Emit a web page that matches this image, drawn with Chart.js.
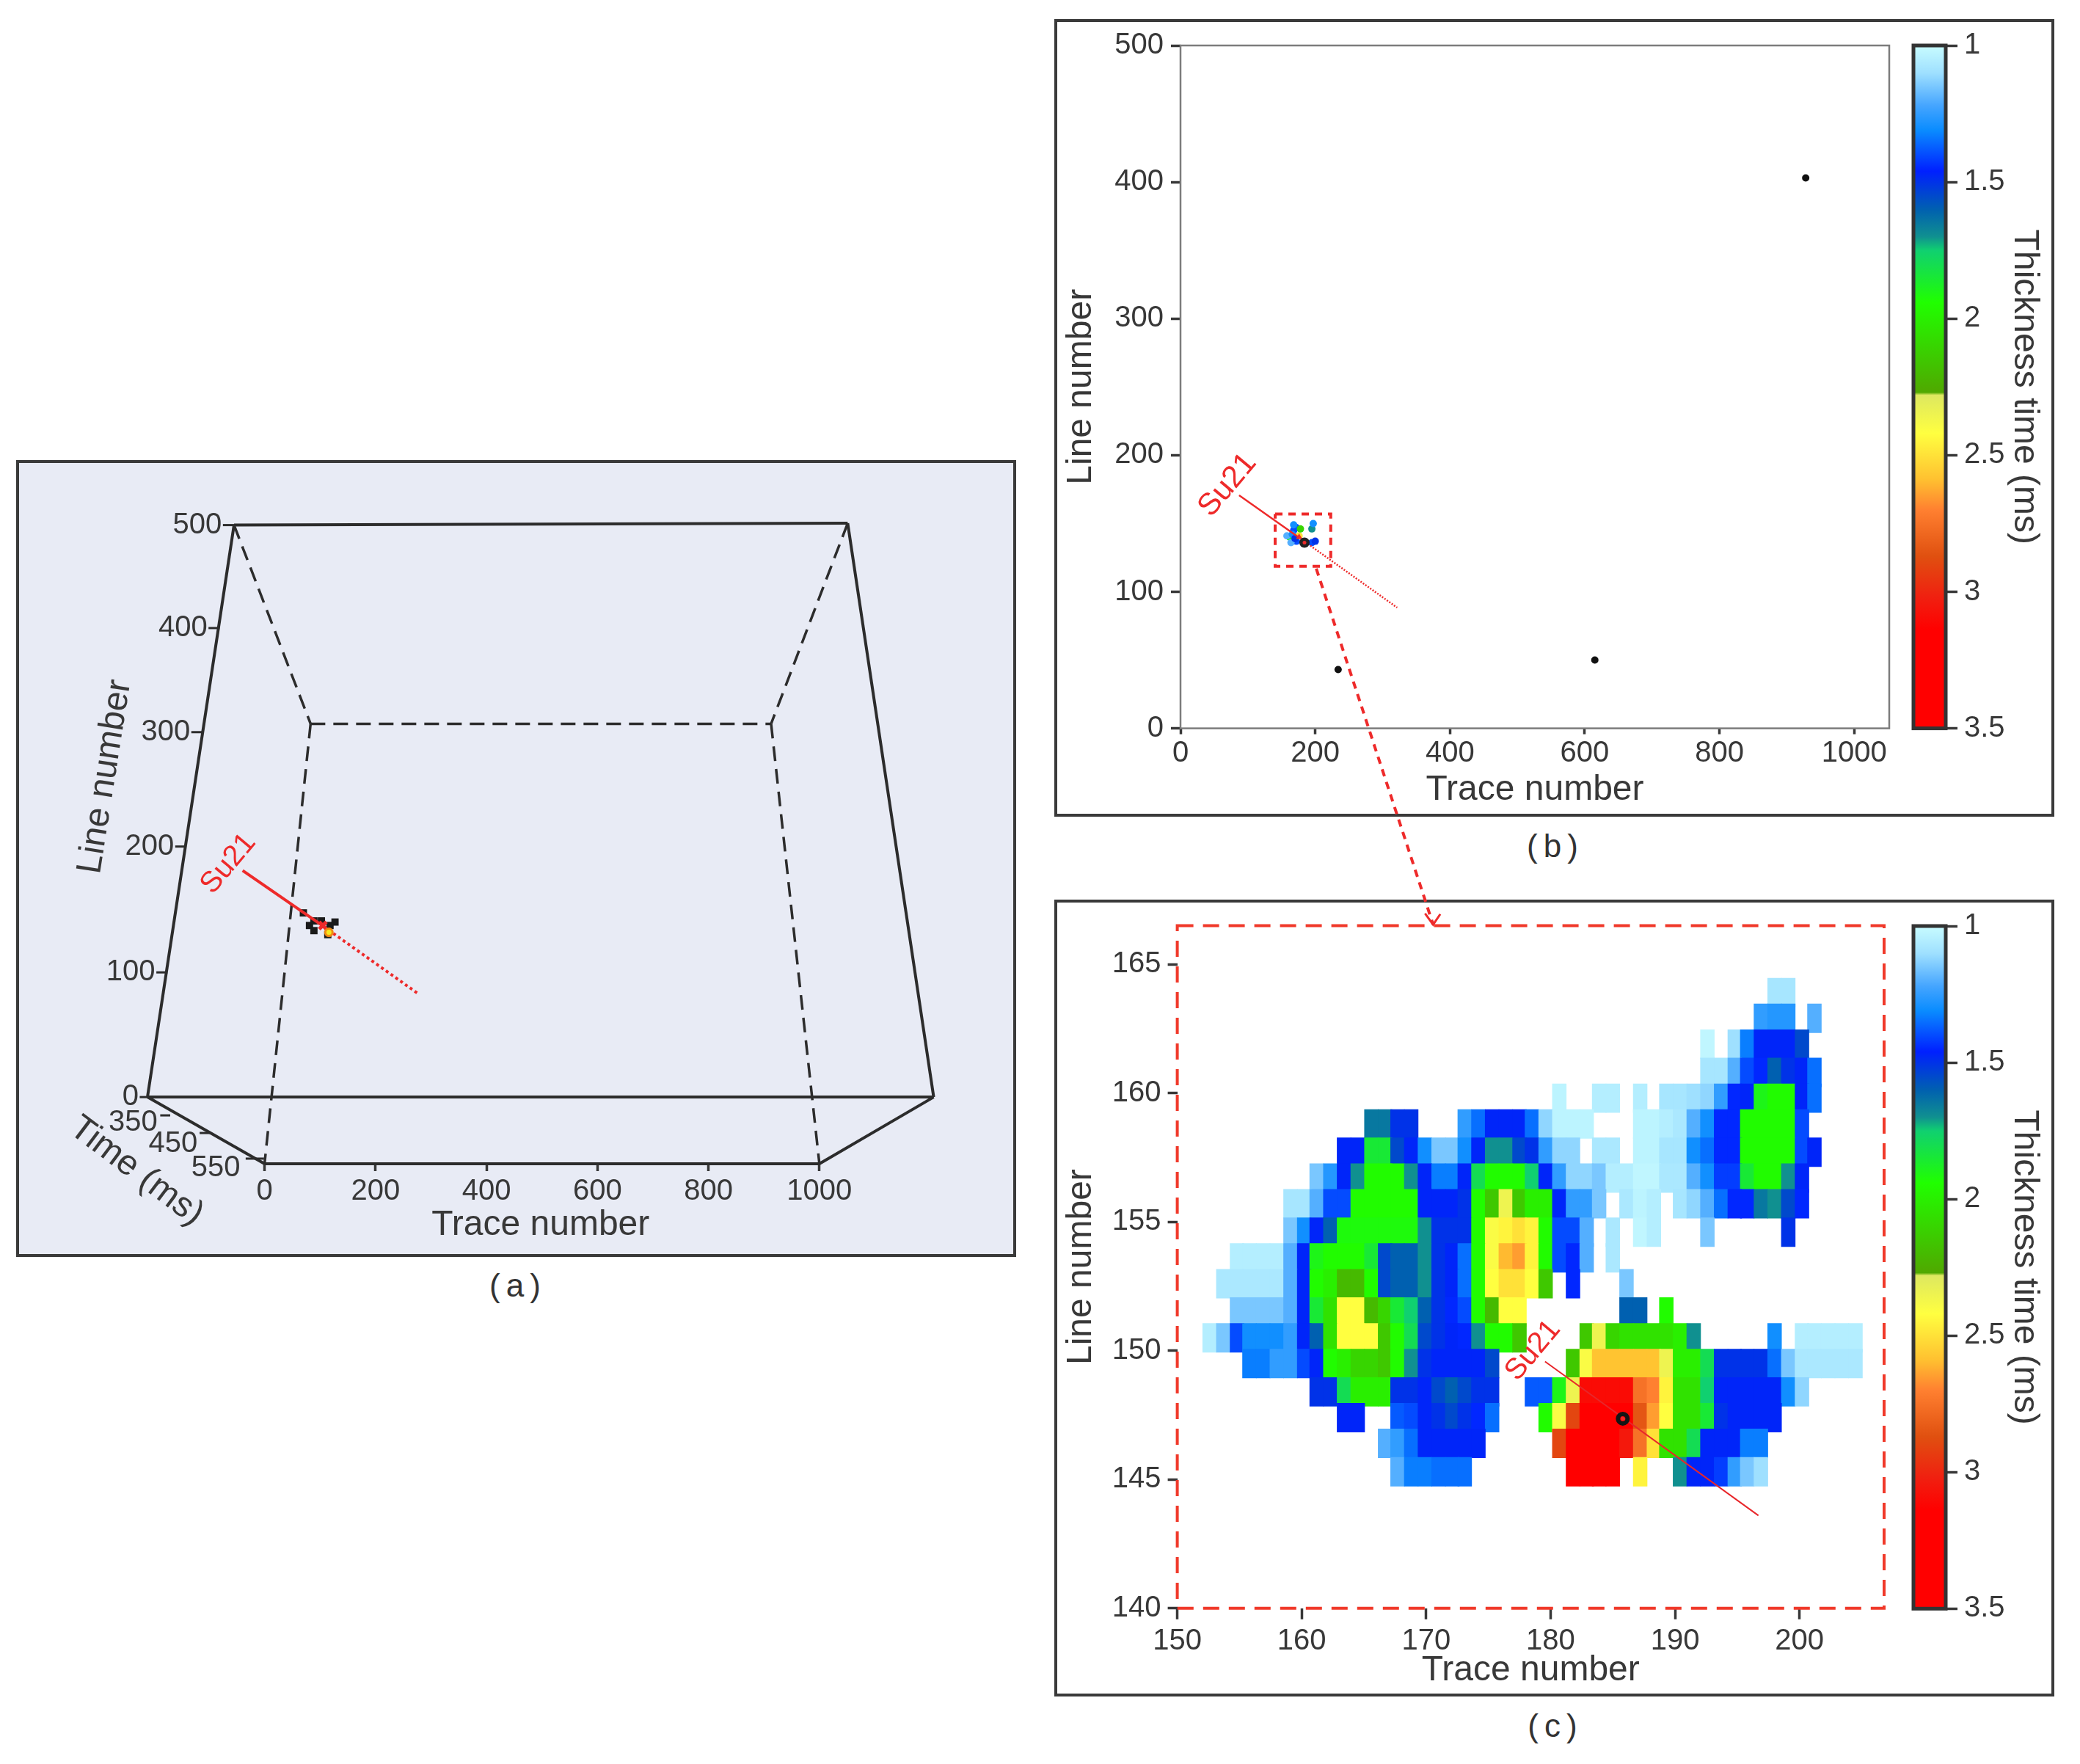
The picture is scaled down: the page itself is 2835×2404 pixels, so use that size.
<!DOCTYPE html>
<html>
<head>
<meta charset="utf-8">
<title>Su21 thickness time</title>
<script src="https://cdn.jsdelivr.net/npm/chart.js@4"></script>
<style>
html, body { margin: 0; padding: 0; background: #fff; width: 2835px; height: 2404px; overflow: hidden; }
canvas { position: absolute; filter: blur(0.7px); }
.panel { position: absolute; box-sizing: border-box; border: 4px solid #3a3a3a; }
.caption { position: absolute; font: 44px "Liberation Sans", sans-serif; color: #333; letter-spacing: 8px; transform: translateX(-50%); }
</style>
</head>
<body>
<div class="panel" style="left:22px;top:627px;width:1363px;height:1086px;background:#e8ebf5"></div>
<div class="panel" style="left:1437px;top:26px;width:1363px;height:1087px"></div>
<div class="panel" style="left:1437px;top:1226px;width:1363px;height:1086px"></div>
<div class="caption" style="left:706px;top:1727px">(a)</div>
<div class="caption" style="left:2120px;top:1128px">(b)</div>
<div class="caption" style="left:2120px;top:2327px">(c)</div>

<canvas id="chartA" width="1350" height="1060" style="left:30px;top:640px"></canvas>
<canvas id="chartC" width="1150" height="1078" style="left:1440px;top:1225px"></canvas>
<canvas id="chartB" width="1150" height="1250" style="left:1440px;top:30px"></canvas>
<canvas id="barB" width="205" height="1011" style="left:2590px;top:22px"></canvas>
<canvas id="barC" width="205" height="1011" style="left:2590px;top:1222px"></canvas>

<script>
// panel (c) grid
const traceNumbers = [152.6,153.7,154.8,155.8,156.9,158.0,159.1,160.2,161.2,162.3,163.4,164.5,165.6,166.7,167.7,168.8,169.9,171.0,172.1,173.1,174.2,175.3,176.4,177.5,178.5,179.6,180.7,181.8,182.9,183.9,185.0,186.1,187.2,188.3,189.3,190.4,191.5,192.6,193.7,194.8,195.8,196.9,198.0,199.1,200.2,201.2,202.3,203.4,204.5];
const lineNumbers = [163.9,162.9,161.9,160.8,159.8,158.8,157.7,156.7,155.7,154.6,153.6,152.6,151.5,150.5,149.5,148.4,147.4,146.4,145.3];
// index into traceNumbers of the first value of each row
const rowFirstTrace = [42,41,37,37,26,12,10,8,6,6,2,1,2,0,3,8,10,13,14];
// thickness time (ms), 0 = nothing there
const thickness = [
  [1.08,1.08],
  [1.25,1.27,1.27,0,1.2],
  [1.02,0,1.1,1.33,1.47,1.47,1.47,1.55],
  [1.08,1.08,1.2,1.4,1.45,1.6,1.5,1.47,1.35],
  [1.03,0,0,1.05,1.05,0,1.05,0,1.08,1.08,1.1,1.12,1.25,1.45,1.47,1.9,1.95,1.95,1.47,1.35],
  [1.65,1.65,1.5,1.5,0,0,0,1.25,1.35,1.47,1.47,1.47,1.35,1.12,1.03,1.03,1.03,0,0,0,1.03,1.03,1.05,1.07,1.2,1.3,1.45,1.45,1.95,1.95,1.95,1.95,1.4],
  [1.47,1.47,1.85,1.85,1.55,1.47,1.3,1.15,1.15,1.3,1.47,1.7,1.7,1.55,1.5,1.25,1.12,1.12,0,1.07,1.07,0,1.03,1.03,1.08,1.08,1.3,1.35,1.45,1.45,1.95,1.95,1.95,1.95,1.4,1.47],
  [1.15,1.27,1.47,1.7,1.95,1.95,1.95,1.7,1.47,1.33,1.33,1.47,1.8,1.95,1.95,1.95,1.75,1.47,1.25,1.12,1.12,1.15,1.05,1.05,1.02,1.02,1.07,1.07,1.2,1.3,1.42,1.42,1.85,1.95,1.95,1.7,1.47],
  [1.08,1.08,1.2,1.4,1.4,1.95,1.95,1.95,1.95,1.95,1.47,1.47,1.47,1.5,1.95,2.15,2.35,2.15,2.0,2.0,1.47,1.25,1.25,1.15,0,1.07,1.03,1.05,0,1.08,1.12,1.2,1.35,1.45,1.45,1.65,1.7,1.55,1.45],
  [1.15,1.3,1.47,1.6,1.92,1.92,1.92,1.92,1.92,1.92,1.7,1.5,1.5,1.5,1.95,2.4,2.45,2.5,2.45,1.95,1.4,1.4,1.2,0,1.07,0,1.02,1.05,0,0,0,1.15,0,0,0,0,0,1.5],
  [1.05,1.05,1.05,1.05,1.2,1.47,1.9,1.95,1.95,1.95,1.85,1.55,1.6,1.6,1.7,1.5,1.47,1.35,1.95,2.4,2.6,2.65,2.45,1.95,1.4,1.45,1.2,0,1.07],
  [1.07,1.07,1.07,1.07,1.07,1.2,1.47,1.95,2.0,2.2,2.2,1.95,1.55,1.6,1.6,1.7,1.5,1.47,1.35,1.95,2.42,2.5,2.5,2.42,2.15,0,1.45,0,0,0,1.15],
  [1.15,1.15,1.15,1.15,1.2,1.47,1.85,2.05,2.42,2.42,2.2,2.1,1.85,1.75,1.6,1.5,1.45,1.4,1.95,2.2,2.42,2.42,0,0,0,0,0,0,0,1.6,1.6,0,1.95],
  [1.05,1.15,1.4,1.3,1.3,1.3,1.25,1.47,1.6,2.05,2.42,2.42,2.42,2.15,1.95,1.8,1.55,1.5,1.47,1.45,1.7,1.95,1.95,2.15,0,0,0,0,2.15,2.35,2.1,2.05,2.05,2.05,2.05,2.0,1.7,0,0,0,0,0,1.3,0,1.05,1.05,1.05,1.05,1.05],
  [1.33,1.33,1.25,1.25,1.4,1.47,1.95,2.0,2.1,2.1,2.15,1.95,1.7,1.5,1.47,1.47,1.47,1.47,1.55,0,0,0,0,0,2.15,2.4,2.58,2.58,2.58,2.58,2.58,2.35,2.0,2.0,1.8,1.5,1.5,1.5,1.5,1.35,1.15,1.07,1.07,1.07,1.07,1.07],
  [1.5,1.5,1.8,2.0,2.0,2.0,1.5,1.5,1.47,1.55,1.6,1.55,1.5,1.5,0,0,1.38,1.38,1.9,2.35,3.1,3.1,3.1,3.1,2.75,2.7,2.45,2.05,2.05,1.75,1.47,1.47,1.47,1.47,1.47,1.3,1.12],
  [1.47,1.47,0,0,1.38,1.4,1.47,1.5,1.55,1.5,1.45,1.35,0,0,0,1.95,2.4,2.9,3.3,3.3,3.3,3.3,2.85,2.65,2.42,2.05,2.05,1.85,1.5,1.47,1.47,1.47,1.47],
  [1.2,1.25,1.35,1.47,1.47,1.47,1.47,1.47,0,0,0,0,0,2.9,3.3,3.3,3.3,3.3,3.05,2.75,2.5,2.05,2.05,1.8,1.47,1.47,1.47,1.33,1.33],
  [1.2,1.33,1.33,1.35,1.35,1.35,0,0,0,0,0,0,0,3.2,3.2,3.2,3.2,0,2.45,0,0,1.7,1.47,1.47,1.42,1.25,1.15,1.1]
];

// colour bar: thickness value and colour at that value
const colorValues = [1.0,1.1,1.22,1.31,1.46,1.6,1.7,1.75,1.94,2.27,2.28,2.42,2.59,2.7,2.87,3.02,3.14,3.5];
const colorStops = ['#c8fcff','#9fe0ff','#45a5ff','#0a8cff','#0020ff','#0060b0','#109090','#10d070','#20ff00','#50a800','#dde860','#ffff40','#ffc030','#ff8030','#e05010','#f02010','#ff0000','#ff0000'];
const colorbarTicks = [1,1.5,2,2.5,3,3.5];

// panel (b)
const bTicksX = [0,200,400,600,800,1000];
const bTicksY = [0,100,200,300,400,500];
const bWellTrace = [234,615,928];
const bWellLine = [43,50,403];
const bClusterTrace = [168,162,172,172,176,195,197,195,158,166,164,170,168,178,200];
const bClusterLine = [145,140,147,137,141,146,150,136,141,142,136,139,149,146,137];
const bClusterValue = [1.4,1.95,1.4,1.4,2.5,1.7,1.3,1.4,1.2,1.3,1.2,1.5,1.3,2.1,1.5];
const bLineTrace = [87,175,321.6];
const bLineLine = [170.6,140,88.4];
const bBoxTrace = [140.5,223,223,140.5,140.5];
const bBoxLine = [157,157,118.6,118.6,157];
const bArrowTrace = [201.5,375];
const bArrowLine = [117,-143.7];
const bHeadTrace = [363,375,385.6];
const bHeadLine = [-135.6,-143.7,-136];

// panel (c)
const cTicksX = [150,160,170,180,190,200];
const cTicksY = [140,145,150,155,160,165];
const cLineTrace = [179.55,196.7];
const cLineLine = [149.58,143.6];

// panel (a): projected box, x in trace numbers, y in line numbers on the front face
const aTicksX = [0,200,400,600,800,1000];
const aSolidTrace = [[-55,1051],[-211,-55],[1051,1206],[-211,1206],[0,1000],[-211,0],[1206,1000]];
const aSolidLine = [[500,501.6],[0,500],[501.6,0],[0,0],[-58.3,-58.3],[0,-58.3],[0,-58.3]];
const aDashTrace = [[-55,83],[1051,913],[83,913],[83,0],[913,1000]];
const aDashLine = [[500,326.3],[501.6,326.3],[326.3,326.3],[326.3,-58.3],[326.3,-58.3]];
const aLineLabels = ['500','400','300','200','100','0'];
const aLineTickStart = [-75,-101,-132,-161,-195,-225];
const aLineTickEnd = [-55,-81,-112,-141,-175,-211];
const aLineTickPos = [500,410,319,219,109,0];
const aTimeLabels = ['350','450','550'];
const aTimeLabelTrace = [-237,-165,-88];
const aTimeLabelPos = [-22.4,-41,-62];
const aTimeTickStart = [-188,-117,-34];
const aTimeTickEnd = [-170,-96,-1];
const aTimeTickPos = [-16,-31.4,-53.8];
const aClusterTrace = [89,81,89,102.5,127,118,114,70];
const aClusterLine = [154,150,145.5,154,153,150,142,161];

const FONT = '"Liberation Sans", sans-serif';
const INK = '#383838';
const RED = '#ee2a2a';

function zip(xs, ys) {
  return xs.map(function(x, i) { return { x: x, y: ys[i] }; });
}

function colorFor(v) {
  let i = 0;
  while (i < colorValues.length - 2 && v > colorValues[i + 1]) i++;
  const t = Math.min(1, Math.max(0, (v - colorValues[i]) / (colorValues[i + 1] - colorValues[i])));
  const a = parseInt(colorStops[i].slice(1), 16);
  const b = parseInt(colorStops[i + 1].slice(1), 16);
  const mix = function(shift) {
    const p = (a >> shift) & 255, q = (b >> shift) & 255;
    return Math.round(p + (q - p) * t);
  };
  return 'rgb(' + mix(16) + ',' + mix(8) + ',' + mix(0) + ')';
}

// one floating bar per grid cell
const cells = [];
thickness.forEach(function(row, r) {
  row.forEach(function(v, i) {
    if (v > 0) {
      cells.push({ x: traceNumbers[rowFirstTrace[r] + i], y: [lineNumbers[r] - 0.56, lineNumbers[r] + 0.56], v: v });
    }
  });
});

function line(xs, ys, color, width, dash) {
  return {
    type: 'scatter', data: zip(xs, ys), showLine: true, pointRadius: 0, clip: false,
    borderColor: color, borderWidth: width, borderDash: dash || [], tension: 0
  };
}

function dots(xs, ys, color, radius, style, border, borderWidth) {
  return {
    type: 'scatter', data: zip(xs, ys), showLine: false, clip: false,
    pointRadius: radius, pointStyle: style || 'circle',
    backgroundColor: color, pointBackgroundColor: color,
    pointBorderColor: border || 'transparent', pointBorderWidth: borderWidth || 0
  };
}

// plain text placed in data units, rotated where the figure has it rotated
function textPlugin(items) {
  return {
    id: 'textMarks',
    afterDatasetsDraw: function(chart) {
      const c = chart.ctx;
      items.forEach(function(t) {
        c.save();
        c.translate(chart.scales.x.getPixelForValue(t.x), chart.scales.y.getPixelForValue(t.y));
        c.rotate((t.rot || 0) * Math.PI / 180);
        c.font = t.size + 'px ' + FONT;
        c.fillStyle = t.color || INK;
        c.textAlign = t.align || 'center';
        c.textBaseline = 'middle';
        c.fillText(t.text, 0, 0);
        c.restore();
      });
    }
  };
}

function framePlugin(color, width, dash) {
  return {
    id: 'frame',
    afterDatasetsDraw: function(chart) {
      const c = chart.ctx, a = chart.chartArea;
      c.save();
      c.strokeStyle = color;
      c.lineWidth = width;
      c.setLineDash(dash || []);
      c.strokeRect(a.left, a.top, a.right - a.left, a.bottom - a.top);
      c.restore();
    }
  };
}

function axis(o) {
  return {
    type: 'linear', min: o.min, max: o.max, position: o.position, reverse: !!o.reverse, offset: false,
    afterBuildTicks: function(s) { s.ticks = o.ticks.map(function(v) { return { value: v }; }); },
    afterFit: function(s) { if (o.width) s.width = o.width; if (o.height) s.height = o.height; },
    border: { display: false },
    grid: { offset: false, drawOnChartArea: false, drawTicks: true, tickLength: o.tick, tickColor: INK, tickWidth: 3.5 },
    ticks: {
      color: INK, autoSkip: false, maxRotation: 0, padding: o.pad,
      font: { family: FONT, size: 40, lineHeight: 1 },
      callback: function(v) { return String(v); }
    },
    title: {
      display: true, text: o.title, color: INK, padding: 0,
      font: { family: FONT, size: 48, lineHeight: 1 }
    }
  };
}

const baseOptions = {
  responsive: false, animation: false, devicePixelRatio: 1,
  events: [],
  plugins: { legend: { display: false }, tooltip: { enabled: false } }
};

// panel (a)
const aDatasets = [];
aSolidTrace.forEach(function(xs, i) { aDatasets.push(line(xs, aSolidLine[i], '#2c2c2c', 4)); });
aDashTrace.forEach(function(xs, i) { aDatasets.push(line(xs, aDashLine[i], '#2c2c2c', 3.5, [20, 11])); });
aLineTickStart.forEach(function(x, i) { aDatasets.push(line([x, aLineTickEnd[i]], [aLineTickPos[i], aLineTickPos[i]], '#2c2c2c', 3)); });
aTimeTickStart.forEach(function(x, i) { aDatasets.push(line([x, aTimeTickEnd[i]], [aTimeTickPos[i], aTimeTickPos[i]], '#2c2c2c', 3)); });
aDatasets.unshift(
  dots([116], [144], '#f6e81e', 5, 'circle', '#f08a10', 3),
  dots([105], [150], RED, 7, 'crossRot', RED, 5),
  line([-39.5, 98], [198, 152], RED, 4),
  line([98, 278], [152, 90], RED, 4, [4, 4]),
  dots(aClusterTrace, aClusterLine, '#1a1a1a', 7, 'rect')
);

new Chart(document.getElementById('chartA'), {
  type: 'scatter',
  data: { datasets: aDatasets },
  options: Object.assign({}, baseOptions, {
    layout: { padding: { left: 171, right: 107.4, top: 60, bottom: 6.5 } },
    scales: {
      x: axis({ min: -211, max: 1206, position: 'bottom', ticks: aTicksX, height: 107.5, tick: 10, pad: 8, title: 'Trace number' }),
      y: { type: 'linear', display: false, min: -58.3, max: 510 }
    }
  }),
  plugins: [textPlugin(
    aLineLabels.map(function(t, i) { return { text: t, x: aLineTickStart[i] - 2, y: aLineTickPos[i], size: 40, align: 'right' }; })
      .concat(aTimeLabels.map(function(t, i) { return { text: t, x: aTimeLabelTrace[i], y: aTimeLabelPos[i], size: 40 }; }))
      .concat([
        { text: 'Line number', x: -287, y: 280, size: 48, rot: -81 },
        { text: 'Time (ms)', x: -231, y: -65, size: 48, rot: 37 },
        { text: 'Su21', x: -65, y: 204, size: 40, rot: -50, color: RED }
      ])
  )]
});

// panel (b)
new Chart(document.getElementById('chartB'), {
  type: 'scatter',
  data: {
    datasets: [
      dots([184], [136], RED, 2.5),
      dots([184], [136], '#222', 7),
      dots([176], [140], RED, 5, 'triangle'),
      line(bLineTrace.slice(0, 2), bLineLine.slice(0, 2), RED, 2.5),
      line(bLineTrace.slice(1), bLineLine.slice(1), RED, 2.5, [2, 2]),
      line(bHeadTrace, bHeadLine, RED, 3),
      line(bArrowTrace, bArrowLine, RED, 4, [10, 8]),
      line(bBoxTrace, bBoxLine, RED, 4, [10, 8]),
      dots(bWellTrace, bWellLine, '#111', 5),
      {
        type: 'scatter', data: zip(bClusterTrace, bClusterLine), showLine: false, pointRadius: 5,
        pointBackgroundColor: bClusterValue.map(colorFor), pointBorderWidth: 0
      }
    ]
  },
  options: Object.assign({}, baseOptions, {
    layout: { padding: { left: 10, right: 15, top: 32, bottom: 178.8 } },
    scales: {
      x: axis({ min: 0, max: 1052, position: 'bottom', ticks: bTicksX, height: 108.6, tick: 8, pad: 6, title: 'Trace number' }),
      y: axis({ min: 0, max: 500, position: 'left', ticks: bTicksY, width: 159, tick: 13, pad: 10, title: 'Line number' })
    }
  }),
  plugins: [
    framePlugin('#7c7c7c', 2.5),
    textPlugin([{ text: 'Su21', x: 70, y: 178, size: 42, rot: -50, color: RED }])
  ]
});

// panel (c)
new Chart(document.getElementById('chartC'), {
  data: {
    datasets: [
      dots([185.8], [147.36], RED, 2.5),
      dots([185.8], [147.36], 'rgba(0,0,0,0)', 6.5, 'circle', '#151515', 6),
      line(cLineTrace, cLineLine, '#e8262a', 2),
      {
        type: 'bar', data: cells, barThickness: 18.9, borderWidth: 0, borderSkipped: false,
        backgroundColor: cells.map(function(c) { return colorFor(c.v); })
      }
    ]
  },
  options: Object.assign({}, baseOptions, {
    layout: { padding: { left: 10, right: 22, top: 36.4, bottom: 2.5 } },
    scales: {
      x: axis({ min: 150, max: 206.8, position: 'bottom', ticks: cTicksX, height: 108.7, tick: 15, pad: 10, title: 'Trace number' }),
      y: axis({ min: 140, max: 166.5, position: 'left', ticks: cTicksY, width: 154.6, tick: 13, pad: 9, title: 'Line number' })
    }
  }),
  plugins: [
    framePlugin('#f0392a', 4, [22, 13]),
    textPlugin([{ text: 'Su21', x: 178.6, y: 150.0, size: 40, rot: -50, color: RED }])
  ]
});

// colour bars
function colorbar(id, bottom) {
  new Chart(document.getElementById(id), {
    type: 'bar',
    data: {
      labels: ['Thickness time'],
      datasets: [{
        data: [[1, 3.5]], barPercentage: 1, categoryPercentage: 1, borderWidth: 0,
        backgroundColor: function(ctx) {
          const a = ctx.chart.chartArea;
          if (!a) return '#888';
          const g = ctx.chart.ctx.createLinearGradient(0, a.top, 0, a.bottom);
          colorValues.forEach(function(v, i) { g.addColorStop((v - 1) / 2.5, colorStops[i]); });
          return g;
        }
      }]
    },
    options: Object.assign({}, baseOptions, {
      layout: { padding: { left: 18, right: 12, top: 40, bottom: bottom } },
      scales: {
        x: { display: false },
        y: axis({ min: 1, max: 3.5, position: 'right', reverse: true, ticks: colorbarTicks, width: 131, tick: 16, pad: 9, title: 'Thickness time (ms)' })
      }
    }),
    plugins: [framePlugin('#333', 5)]
  });
}
colorbar('barB', 40.4);
colorbar('barC', 40.7);
</script>
</body>
</html>
